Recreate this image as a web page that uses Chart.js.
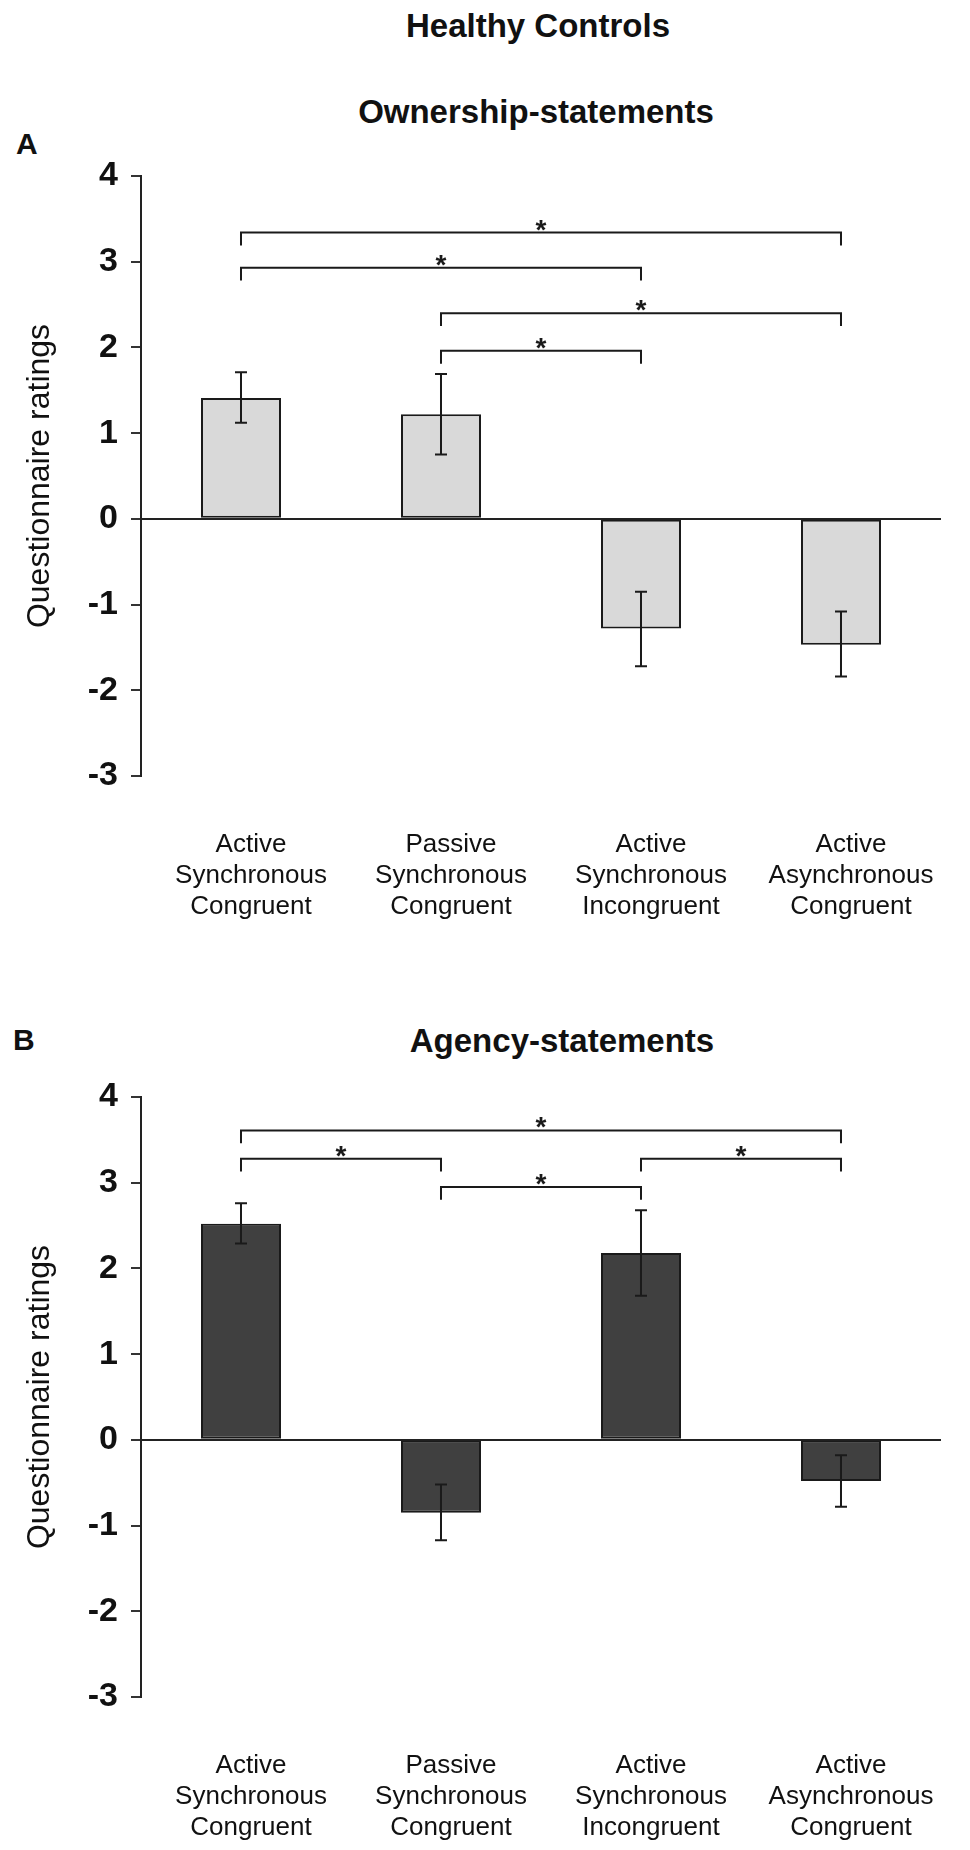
<!DOCTYPE html>
<html>
<head>
<meta charset="utf-8">
<script src="https://cdn.jsdelivr.net/npm/chart.js@4.4.1/dist/chart.umd.min.js"></script>
<style>
  body { margin: 0; background: #fff; }
  #page { position: relative; width: 970px; height: 1850px; font-family: "Liberation Sans", Arial, sans-serif; color: #111; overflow: hidden; }
  canvas { position: absolute; left: 0; }
  .t { position: absolute; font-weight: bold; line-height: 1; white-space: nowrap; }
  .c { text-align: center; width: 500px; font-size: 33px; }
</style>
</head>
<body>
<div id="page">
  <div class="t c" style="top:9px;left:288px">Healthy Controls</div>
  <div class="t c" style="top:95px;left:286px">Ownership-statements</div>
  <div class="t" style="top:129px;left:16px;font-size:30px">A</div>
  <canvas id="chartA" width="970" height="922" style="top:0"></canvas>

  <div class="t c" style="top:1024px;left:312px">Agency-statements</div>
  <div class="t" style="top:1025px;left:13px;font-size:30px">B</div>
  <canvas id="chartB" width="970" height="925" style="top:921px"></canvas>
</div>
<script>
// conditions on the x axis
const categories = [
  ['Active', 'Synchronous', 'Congruent'],
  ['Passive', 'Synchronous', 'Congruent'],
  ['Active', 'Synchronous', 'Incongruent'],
  ['Active', 'Asynchronous', 'Congruent']
];

// ownership statements (panel A)
const ownershipMeans = [1.41, 1.22, -1.28, -1.47];
const ownershipLow = [1.12, 0.75, -1.72, -1.84];
const ownershipHigh = [1.71, 1.69, -0.85, -1.08];
// [from, to, height] of the significance brackets
const ownershipPairs = [[0, 3, 3.34], [0, 2, 2.93], [1, 3, 2.4], [1, 2, 1.96]];

// agency statements (panel B)
const agencyMeans = [2.52, -0.85, 2.18, -0.48];
const agencyLow = [2.29, -1.17, 1.68, -0.78];
const agencyHigh = [2.76, -0.52, 2.68, -0.18];
const agencyPairs = [[0, 3, 3.61], [0, 1, 3.28], [2, 3, 3.28], [1, 2, 2.95]];

const yMin = -3;
const yMax = 4;

Chart.defaults.font.family = '"Liberation Sans", Arial, sans-serif';
Chart.defaults.color = '#111';

// error bars and significance brackets
const extras = {
  id: 'extras',
  afterDatasetsDraw(chart, args, opts) {
    const ctx = chart.ctx;
    const x = chart.scales.x;
    const y = chart.scales.y;
    ctx.save();
    ctx.strokeStyle = '#1a1a1a';
    ctx.fillStyle = '#1a1a1a';
    ctx.lineWidth = 2;
    opts.low.forEach((lo, i) => {
      const px = x.getPixelForValue(i);
      const yl = y.getPixelForValue(lo);
      const yh = y.getPixelForValue(opts.high[i]);
      ctx.beginPath();
      ctx.moveTo(px, yl); ctx.lineTo(px, yh);
      ctx.moveTo(px - 6, yl); ctx.lineTo(px + 6, yl);
      ctx.moveTo(px - 6, yh); ctx.lineTo(px + 6, yh);
      ctx.stroke();
    });
    ctx.font = 'bold 28px "Liberation Sans", Arial, sans-serif';
    ctx.textAlign = 'center';
    ctx.textBaseline = 'alphabetic';
    opts.pairs.forEach(p => {
      const xa = x.getPixelForValue(p[0]);
      const xb = x.getPixelForValue(p[1]);
      const yl = y.getPixelForValue(p[2]);
      const yd = y.getPixelForValue(p[2] - 0.15);
      ctx.beginPath();
      ctx.moveTo(xa, yd); ctx.lineTo(xa, yl); ctx.lineTo(xb, yl); ctx.lineTo(xb, yd);
      ctx.stroke();
      ctx.fillText('*', (xa + xb) / 2, yl + 6);
    });
    ctx.restore();
  }
};

function makeChart(id, means, low, high, pairs, fill, xHeight) {
  return new Chart(document.getElementById(id), {
    type: 'bar',
    data: {
      labels: categories,
      datasets: [{
        data: means,
        backgroundColor: fill,
        borderColor: '#1a1a1a',
        borderWidth: 2,
        borderSkipped: false,
        barPercentage: 0.4,
        categoryPercentage: 1
      }]
    },
    options: {
      responsive: false,
      animation: false,
      layout: { padding: { top: 176, right: 13, left: 0, bottom: 0 } },
      plugins: {
        legend: { display: false },
        tooltip: { enabled: false },
        extras: { low: low, high: high, pairs: pairs }
      },
      scales: {
        x: {
          grid: { display: false },
          border: { display: false },
          ticks: {
            padding: 45,
            labelOffset: 10,
            maxRotation: 0,
            autoSkip: false,
            font: { size: 26, lineHeight: 1.19 },
            color: '#111'
          },
          afterFit(scale) { scale.height = xHeight; }
        },
        y: {
          min: yMin,
          max: yMax,
          border: { display: true, color: '#222', width: 2 },
          grid: {
            color: c => (c.tick && c.tick.value === 0) ? '#222' : 'rgba(0,0,0,0)',
            lineWidth: 2,
            tickColor: '#333',
            tickLength: 10,
            drawTicks: true
          },
          ticks: {
            stepSize: 1,
            padding: 13,
            font: { size: 34, weight: 'bold' },
            color: '#111'
          },
          title: {
            display: true,
            text: 'Questionnaire ratings',
            font: { size: 32 },
            padding: { top: 21, bottom: 0 },
            color: '#111'
          },
          afterFit(scale) { scale.width = 141; }
        }
      }
    },
    plugins: [extras]
  });
}

makeChart('chartA', ownershipMeans, ownershipLow, ownershipHigh, ownershipPairs, '#d9d9d9', 146);
makeChart('chartB', agencyMeans, agencyLow, agencyHigh, agencyPairs, '#404040', 149);
</script>
</body>
</html>
